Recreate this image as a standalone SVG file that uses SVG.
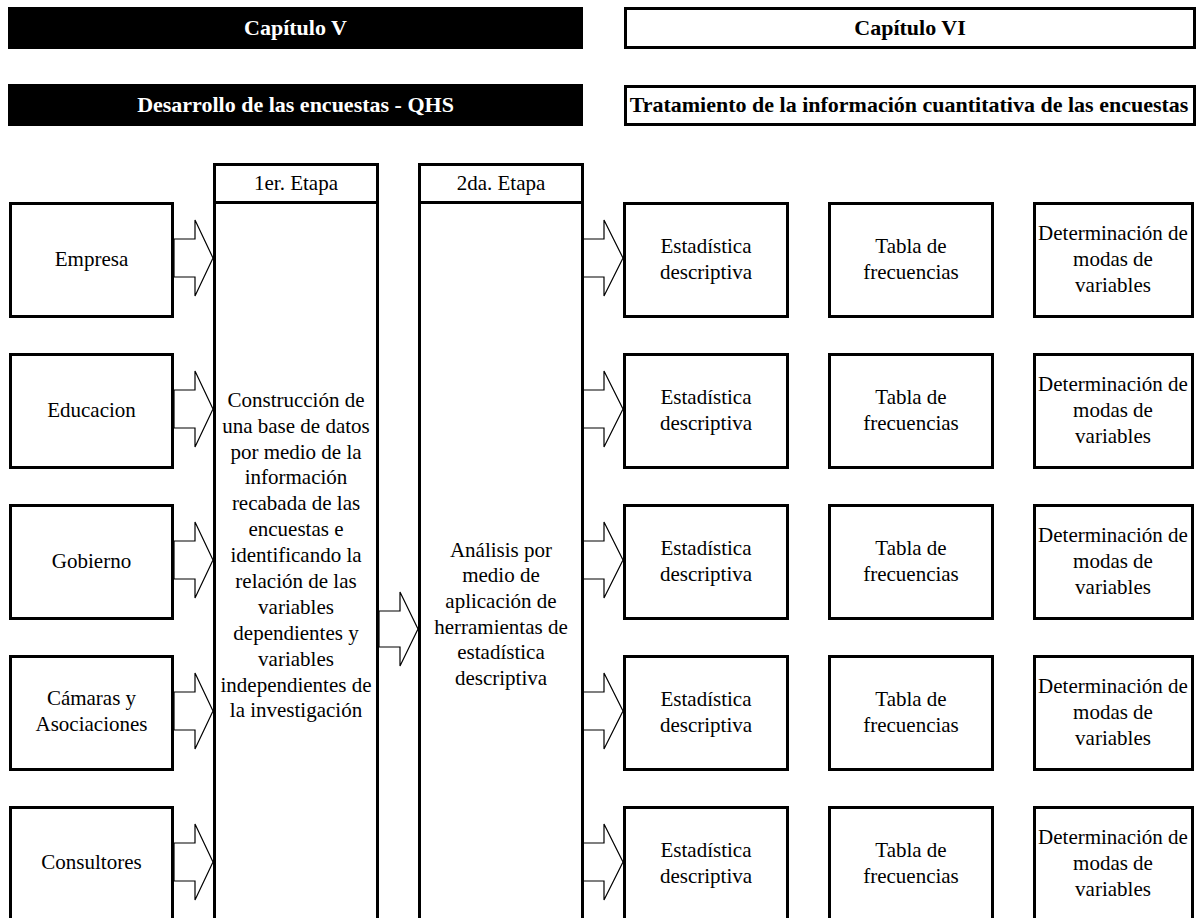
<svg xmlns="http://www.w3.org/2000/svg" width="1198" height="918" viewBox="0 0 1198 918">
<defs>
<style>
text{font-family:"Liberation Serif","Times New Roman",serif;font-size:21px;fill:#000;text-anchor:middle}
.h{font-weight:bold;font-size:22px}
.w{fill:#fff}
.box{fill:#fff;stroke:#000;stroke-width:3}
.col{fill:none;stroke:#000;stroke-width:3}
.arr{fill:#fff;stroke:#000;stroke-width:1.2;stroke-linejoin:miter}
</style>
</defs>
<rect width="1198" height="918" fill="#fff"/>

<g id="hdr-cap5"><rect x="8" y="7" width="575" height="42" fill="#000"/><text class="h w" x="295.5" y="35">Capítulo V</text></g>
<g id="hdr-cap6"><rect class="box" x="625.5" y="8.5" width="569" height="39"/><text class="h" x="910" y="35">Capítulo VI</text></g>
<g id="hdr-desarrollo"><rect x="8" y="84" width="575" height="42" fill="#000"/><text class="h w" x="295.5" y="112">Desarrollo de las encuestas - QHS</text></g>
<g id="hdr-tratamiento"><rect class="box" x="625.5" y="86.5" width="569" height="38"/><text class="h" x="909" y="112">Tratamiento de la información cuantitativa de las encuestas</text></g>

<g id="connectors">
<polygon class="arr" points="174,239 195,239 195,220 213,258 195,296 195,277 174,277"/>
<polygon class="arr" points="174,390 195,390 195,371 213,409 195,447 195,428 174,428"/>
<polygon class="arr" points="174,541 195,541 195,522 213,560 195,598 195,579 174,579"/>
<polygon class="arr" points="174,692 195,692 195,673 213,711 195,749 195,730 174,730"/>
<polygon class="arr" points="174,843 195,843 195,824 213,862 195,900 195,881 174,881"/>
<polygon class="arr" points="379,611 400,611 400,592 418,629 400,666 400,647 379,647"/>
<polygon class="arr" points="583,239 604,239 604,220 623,258 604,296 604,277 583,277"/>
<polygon class="arr" points="583,390 604,390 604,371 623,409 604,447 604,428 583,428"/>
<polygon class="arr" points="583,541 604,541 604,522 623,560 604,598 604,579 583,579"/>
<polygon class="arr" points="583,692 604,692 604,673 623,711 604,749 604,730 583,730"/>
<polygon class="arr" points="583,843 604,843 604,824 623,862 604,900 604,881 583,881"/>
</g>

<g id="src-empresa"><rect class="box" x="10.5" y="203.5" width="162" height="113"/><text x="91.5" y="266">Empresa</text></g>
<g id="src-educacion"><rect class="box" x="10.5" y="354.5" width="162" height="113"/><text x="91.5" y="417">Educacion</text></g>
<g id="src-gobierno"><rect class="box" x="10.5" y="505.5" width="162" height="113"/><text x="91.5" y="568">Gobierno</text></g>
<g id="src-camaras"><rect class="box" x="10.5" y="656.5" width="162" height="113"/><text x="91.5" y="705">Cámaras y</text><text x="91.5" y="731">Asociaciones</text></g>
<g id="src-consultores"><rect class="box" x="10.5" y="807.5" width="162" height="113"/><text x="91.5" y="869">Consultores</text></g>

<g id="etapa1">
<rect class="col" x="214.5" y="164.5" width="163" height="800"/>
<line x1="213" y1="202.5" x2="379" y2="202.5" stroke="#000" stroke-width="3"/>
<text x="296" y="190">1er. Etapa</text>
<text x="296" y="407">Construcción de</text>
<text x="296" y="433">una base de datos</text>
<text x="296" y="459">por medio de la</text>
<text x="296" y="484">información</text>
<text x="296" y="510">recabada de las</text>
<text x="296" y="536">encuestas e</text>
<text x="296" y="562">identificando la</text>
<text x="296" y="588">relación de las</text>
<text x="296" y="614">variables</text>
<text x="296" y="640">dependientes y</text>
<text x="296" y="666">variables</text>
<text x="296" y="692">independientes de</text>
<text x="296" y="717">la investigación</text>
</g>

<g id="etapa2">
<rect class="col" x="419.5" y="164.5" width="163" height="800"/>
<line x1="418" y1="202.5" x2="584" y2="202.5" stroke="#000" stroke-width="3"/>
<text x="501" y="190">2da. Etapa</text>
<text x="501" y="557">Análisis por</text>
<text x="501" y="582">medio de</text>
<text x="501" y="608">aplicación de</text>
<text x="501" y="634">herramientas de</text>
<text x="501" y="659">estadística</text>
<text x="501" y="685">descriptiva</text>
</g>

<g id="est-1"><rect class="box" x="624.5" y="203.5" width="163" height="113"/><text x="706" y="253">Estadística</text><text x="706" y="279">descriptiva</text></g>
<g id="est-2"><rect class="box" x="624.5" y="354.5" width="163" height="113"/><text x="706" y="404">Estadística</text><text x="706" y="430">descriptiva</text></g>
<g id="est-3"><rect class="box" x="624.5" y="505.5" width="163" height="113"/><text x="706" y="555">Estadística</text><text x="706" y="581">descriptiva</text></g>
<g id="est-4"><rect class="box" x="624.5" y="656.5" width="163" height="113"/><text x="706" y="706">Estadística</text><text x="706" y="732">descriptiva</text></g>
<g id="est-5"><rect class="box" x="624.5" y="807.5" width="163" height="113"/><text x="706" y="857">Estadística</text><text x="706" y="883">descriptiva</text></g>

<g id="tab-1"><rect class="box" x="829.5" y="203.5" width="163" height="113"/><text x="911" y="253">Tabla de</text><text x="911" y="279">frecuencias</text></g>
<g id="tab-2"><rect class="box" x="829.5" y="354.5" width="163" height="113"/><text x="911" y="404">Tabla de</text><text x="911" y="430">frecuencias</text></g>
<g id="tab-3"><rect class="box" x="829.5" y="505.5" width="163" height="113"/><text x="911" y="555">Tabla de</text><text x="911" y="581">frecuencias</text></g>
<g id="tab-4"><rect class="box" x="829.5" y="656.5" width="163" height="113"/><text x="911" y="706">Tabla de</text><text x="911" y="732">frecuencias</text></g>
<g id="tab-5"><rect class="box" x="829.5" y="807.5" width="163" height="113"/><text x="911" y="857">Tabla de</text><text x="911" y="883">frecuencias</text></g>

<g id="det-1"><rect class="box" x="1034.5" y="203.5" width="158" height="113"/><text x="1113" y="240">Determinación de</text><text x="1113" y="266">modas de</text><text x="1113" y="292">variables</text></g>
<g id="det-2"><rect class="box" x="1034.5" y="354.5" width="158" height="113"/><text x="1113" y="391">Determinación de</text><text x="1113" y="417">modas de</text><text x="1113" y="443">variables</text></g>
<g id="det-3"><rect class="box" x="1034.5" y="505.5" width="158" height="113"/><text x="1113" y="542">Determinación de</text><text x="1113" y="568">modas de</text><text x="1113" y="594">variables</text></g>
<g id="det-4"><rect class="box" x="1034.5" y="656.5" width="158" height="113"/><text x="1113" y="693">Determinación de</text><text x="1113" y="719">modas de</text><text x="1113" y="745">variables</text></g>
<g id="det-5"><rect class="box" x="1034.5" y="807.5" width="158" height="113"/><text x="1113" y="844">Determinación de</text><text x="1113" y="870">modas de</text><text x="1113" y="896">variables</text></g>
</svg>
